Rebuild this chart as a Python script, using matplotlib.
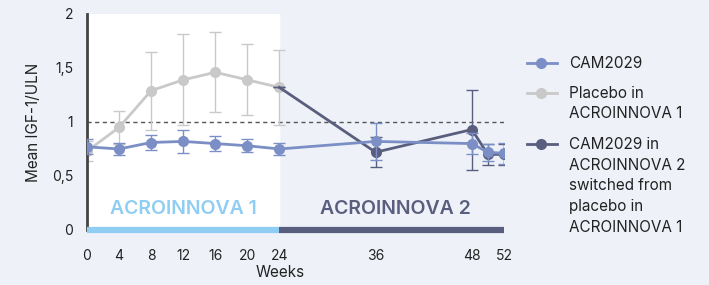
import matplotlib.pyplot as plt
from matplotlib.lines import Line2D
from matplotlib.ticker import FuncFormatter

# data
weeks_cam = [0, 4, 8, 12, 16, 20, 24, 36, 48, 50, 52]
cam = [0.77, 0.75, 0.81, 0.82, 0.80, 0.78, 0.75, 0.82, 0.80, 0.72, 0.71]
cam_err = [0.07, 0.06, 0.07, 0.11, 0.07, 0.06, 0.06, 0.17, 0.10, 0.08, 0.10]

weeks_pla = [0, 4, 8, 12, 16, 20, 24]
pla = [0.73, 0.95, 1.29, 1.39, 1.46, 1.39, 1.32]
pla_err = [0.09, 0.15, 0.36, 0.42, 0.37, 0.33, 0.35]

weeks_sw = [24, 36, 48, 50, 52]
sw = [1.32, 0.72, 0.93, 0.70, 0.70]
sw_err = [0.0, 0.14, 0.37, 0.10, 0.10]

xticks = [0, 4, 8, 12, 16, 20, 24, 36, 48, 52]
yticks = [0, 0.5, 1, 1.5, 2]

labels = [["CAM2029"],
          ["Placebo in", "ACROINNOVA 1"],
          ["CAM2029 in", "ACROINNOVA 2", "switched from", "placebo in", "ACROINNOVA 1"]]

bg = "#eef2f8"
c_cam = "#7b8fc6"
c_pla = "#c9c9c9"
c_sw = "#5a5e7e"
c_light = "#8fcdf2"

plt.rcParams["font.family"] = ["Inter", "DejaVu Sans"]

W, H = 709, 285
fig = plt.figure(figsize=(W / 100, H / 100), dpi=100)
fig.patch.set_facecolor(bg)
ax = fig.add_axes([0.1227, 0.193, 0.588, 0.758])
ax.set_facecolor(bg)

ax.axvspan(0, 24, color="white", zorder=0)
ax.axhline(1, color="#555555", linestyle=(0, (3, 2.5)), linewidth=1, zorder=1)

ax.errorbar(weeks_pla, pla, yerr=pla_err, color=c_pla, ecolor=c_pla, marker="o",
            markersize=7, linewidth=2, elinewidth=1, capsize=4, zorder=2)
ax.errorbar(weeks_sw, sw, yerr=sw_err, color=c_sw, ecolor=c_sw, marker="o",
            markersize=7, linewidth=2, elinewidth=1, capsize=4, zorder=3,
            markevery=list(range(1, len(weeks_sw))))
ax.errorbar(weeks_cam, cam, yerr=cam_err, color=c_cam, ecolor=c_cam, marker="o",
            markersize=7, linewidth=2, elinewidth=1, capsize=4, zorder=4)

# period bars along the bottom
ax.plot([0, 24], [0, 0], color=c_light, linewidth=4.5, solid_capstyle="butt", clip_on=False, zorder=5)
ax.plot([24, 52], [0, 0], color=c_sw, linewidth=4.5, solid_capstyle="butt", clip_on=False, zorder=5)
ax.text(12, 0.19, "ACROINNOVA 1", color=c_light, fontsize=14, fontweight="semibold",
        ha="center", va="center")
ax.text(38.5, 0.19, "ACROINNOVA 2", color=c_sw, fontsize=14, fontweight="semibold",
        ha="center", va="center")

ax.set_xlim(0, 52)
ax.set_ylim(0, 2)
ax.set_xticks(xticks)
ax.set_yticks(yticks)
ax.yaxis.set_major_formatter(FuncFormatter(lambda v, p: ("%g" % v).replace(".", ",")))
ax.tick_params(length=0, labelsize=10, colors="#222222")
ax.tick_params(axis="x", pad=14)
ax.tick_params(axis="y", pad=10)
for s in ["top", "right", "bottom"]:
    ax.spines[s].set_visible(False)
ax.spines["left"].set_color("#444444")
ax.spines["left"].set_linewidth(2)

ax.set_ylabel("Mean IGF-1/ULN", fontsize=11, color="#222222", labelpad=8)
ax.set_xlabel("Weeks", fontsize=11, color="#222222", va="center")
ax.xaxis.set_label_coords(0.463, -0.195)

# legend drawn by hand so the marker sits on the first text line
y = 63
for col, lines in zip((c_cam, c_pla, c_sw), labels):
    fig.add_artist(Line2D([527 / W, 557 / W], [1 - y / H] * 2, color=col, linewidth=2))
    fig.add_artist(Line2D([541 / W], [1 - y / H], color=col, marker="o", markersize=7))
    for line in lines:
        fig.text(569 / W, 1 - y / H, line, fontsize=11, color="#222222", va="center")
        y += 20.8
    y += 9.4

fig.savefig("out.png", dpi=100, facecolor=bg)
